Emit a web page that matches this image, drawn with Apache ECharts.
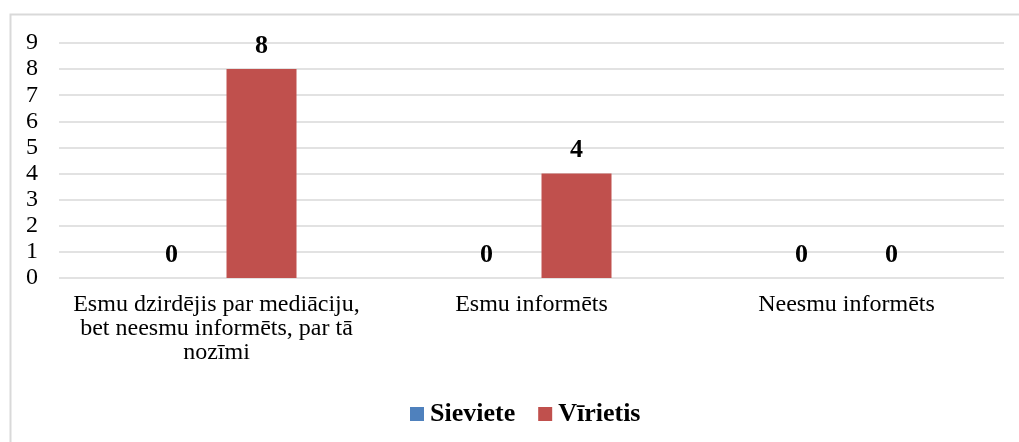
<!DOCTYPE html>
<html>
<head>
<meta charset="utf-8">
<script src="https://cdn.jsdelivr.net/npm/echarts@6/dist/echarts.min.js"></script>
<style>
html,body{margin:0;padding:0;background:#fff;}
#chart{width:1019px;height:442px;}
</style>
</head>
<body>
<div id="chart"></div>
<script>
const categories = [
  "Esmu dzirdējis par mediāciju,\nbet neesmu informēts, par tā\nnozīmi",
  "Esmu informēts",
  "Neesmu informēts"
];
const seriesNames = ["Sieviete", "Vīrietis"];
const sievieteValues = [0, 0, 0];
const virietisValues = [8, 4, 0];
const yTicks = [0, 1, 2, 3, 4, 5, 6, 7, 8, 9];

const FONT = "'Liberation Serif', 'Times New Roman', serif";
const chart = echarts.init(document.getElementById('chart'), null, {renderer: 'canvas'});
const labelStyle = {
  show: true, position: 'top', distance: 10,
  fontFamily: FONT, fontSize: 26, fontWeight: 'bold', color: '#000'
};
chart.setOption({
  animation: false,
  graphic: [{
    type: 'rect', left: 8, top: 12, z: -1,
    shape: {width: 1030, height: 450},
    style: {fill: 'none', stroke: '#d9d9d9', lineWidth: 2}
  }],
  grid: {left: 59, right: 15, top: 43, height: 235},
  legend: {
    data: seriesNames, top: 396, left: 405,
    itemWidth: 14, itemHeight: 14, itemGap: 23,
    icon: 'rect',
    textStyle: {fontFamily: FONT, fontSize: 26, fontWeight: 'bold', color: '#000', padding: [0, 0, 0, 1]}
  },
  xAxis: {
    type: 'category', data: categories,
    axisLine: {show: false}, axisTick: {show: false},
    axisLabel: {fontFamily: FONT, fontSize: 24, color: '#000', lineHeight: 24, margin: 15, interval: 0}
  },
  yAxis: {
    type: 'value', min: yTicks[0], max: yTicks[yTicks.length - 1], interval: 1,
    axisLine: {show: false}, axisTick: {show: false},
    axisLabel: {fontFamily: FONT, fontSize: 24, color: '#000', margin: 21,
      formatter: v => yTicks.includes(v) ? String(v) : ''},
    splitLine: {lineStyle: {color: '#d9d9d9', width: 1.5}}
  },
  series: [
    {name: seriesNames[0], type: 'bar', data: sievieteValues, barWidth: 70, barGap: '28.6%',
     itemStyle: {color: '#4f81bd'}, label: labelStyle},
    {name: seriesNames[1], type: 'bar', data: virietisValues, barWidth: 70, barGap: '28.6%',
     itemStyle: {color: '#c0504d'}, label: labelStyle}
  ]
});
</script>
</body>
</html>
